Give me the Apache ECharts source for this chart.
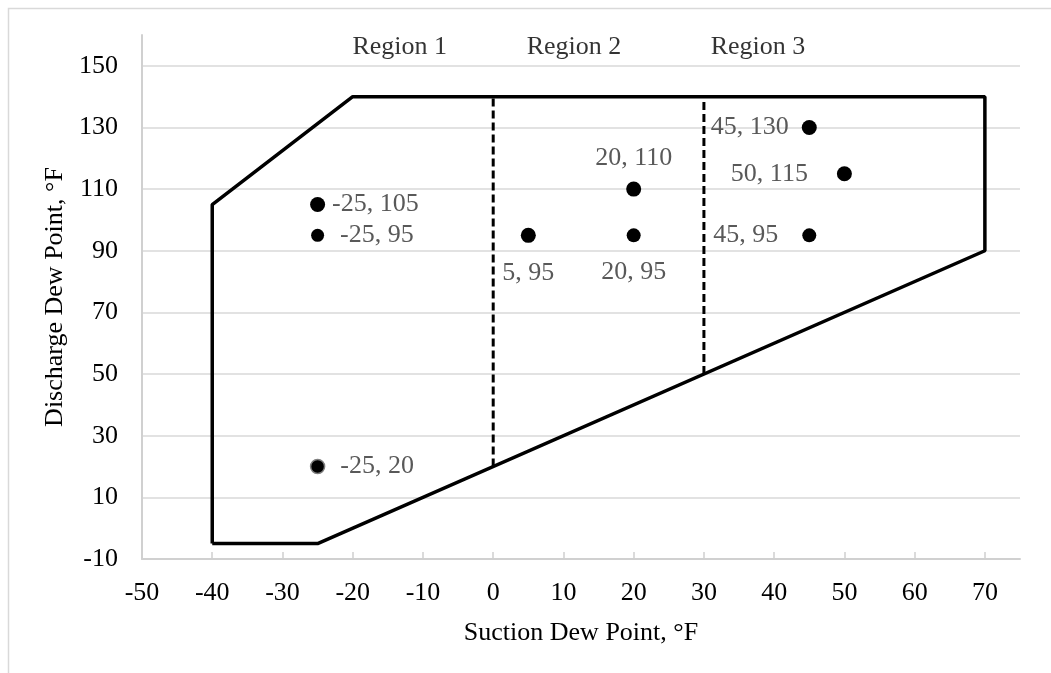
<!DOCTYPE html>
<html>
<head>
<meta charset="utf-8">
<script src="https://cdn.jsdelivr.net/npm/echarts@6/dist/echarts.min.js"></script>
<style>html,body{margin:0;padding:0;background:#fff}#c{width:1051px;height:673px}</style>
</head>
<body>
<div id="c"></div>
<script>
// ---- data ----
const envelopeX = [-40, -25, 70, 70, -20, -40, -40];
const envelopeY = [-5, -5, 90, 140, 140, 105, -5];
const divider1X = [0, 0];
const divider1Y = [20, 140];
const divider2X = [30, 30];
const divider2Y = [50, 140];
const pointX = [-25, -25, -25, 5, 20, 20, 45, 50, 45];
const pointY = [105, 95, 20, 95, 95, 110, 130, 115, 95];
const regionNames = ['Region 1', 'Region 2', 'Region 3'];
const regionX = [-13.3, 11.5, 37.7];
const regionY = [156, 156, 156];
const xTicks = [-50, -40, -30, -20, -10, 0, 10, 20, 30, 40, 50, 60, 70];
const yTicks = [-10, 10, 30, 50, 70, 90, 110, 130, 150];

// ---- styles (per point) ----
const pointStyle = [
  {size: 15, pos: 'right', dist: 7},
  {size: 13, pos: 'right', dist: 16},
  {size: 14, pos: 'right', dist: 15, border: true},
  {size: 15, pos: 'bottom', dist: 17},
  {size: 14, pos: 'bottom', dist: 17},
  {size: 15, pos: 'top', dist: 10},
  {size: 15, pos: 'left', dist: 13},
  {size: 15, pos: 'left', dist: 29},
  {size: 14, pos: 'left', dist: 24}
];

const FONT = '"Liberation Serif", "Times New Roman", serif';
const zip = (a, b) => a.map((v, i) => [v, b[i]]);

const pointData = pointX.map((x, i) => {
  const s = pointStyle[i];
  return {
    value: [x, pointY[i]],
    symbolSize: s.size,
    itemStyle: s.border ? {color: '#000', opacity: 1, borderColor: '#7f7f7f', borderWidth: 1.5} : {color: '#000', opacity: 1},
    label: {position: s.pos, distance: s.dist}
  };
});

const chart = echarts.init(document.getElementById('c'), null, {renderer: 'canvas'});
chart.setOption({
  animation: false,
  backgroundColor: '#fff',
  textStyle: {fontFamily: FONT},
  graphic: [{
    type: 'rect', left: 6, top: 6, shape: {width: 1100, height: 720},
    style: {fill: 'none', stroke: '#d9d9d9', lineWidth: 1.5}, silent: true, z: -10
  }],
  grid: {left: 142, right: 31, top: 35, bottom: 114, containLabel: false},
  xAxis: {
    type: 'value', min: -50, max: 75, interval: 10,
    name: 'Suction Dew Point, °F', nameLocation: 'middle', nameGap: 61,
    nameTextStyle: {fontFamily: FONT, fontSize: 26, color: '#000'},
    axisLine: {show: true, onZero: false, lineStyle: {color: '#d0d0d0', width: 2}},
    axisTick: {show: true, inside: true, length: 7, lineStyle: {color: '#d0d0d0', width: 1.5}, customValues: xTicks},
    axisLabel: {fontFamily: FONT, fontSize: 26, color: '#000', margin: 21, customValues: xTicks},
    splitLine: {show: false}
  },
  yAxis: {
    type: 'value', min: -10, max: 160, interval: 20,
    name: 'Discharge Dew Point, °F', nameLocation: 'middle', nameGap: 73, nameRotate: 90,
    nameTextStyle: {fontFamily: FONT, fontSize: 26, color: '#000'},
    axisLine: {show: true, onZero: false, lineStyle: {color: '#d0d0d0', width: 2}},
    axisTick: {show: false},
    axisLabel: {fontFamily: FONT, fontSize: 26, color: '#000', margin: 24, showMaxLabel: false},
    splitLine: {show: true, showMaxLine: false, showMinLine: false, lineStyle: {color: '#d9d9d9', width: 1.5}}
  },
  series: [
    {
      type: 'line', data: zip(envelopeX, envelopeY), symbol: 'none',
      lineStyle: {color: '#000', width: 3.5}, z: 3
    },
    {
      type: 'line', data: zip(divider1X, divider1Y), symbol: 'none',
      lineStyle: {color: '#000', width: 3, type: [8, 4]}, z: 3
    },
    {
      type: 'line', data: zip(divider2X, divider2Y), symbol: 'none',
      lineStyle: {color: '#000', width: 3, type: [8, 4]}, z: 3
    },
    {
      type: 'scatter', data: pointData, symbol: 'circle', z: 5,
      itemStyle: {opacity: 1},
      label: {
        show: true, fontFamily: FONT, fontSize: 26, color: '#595959',
        formatter: p => p.value[0] + ', ' + p.value[1]
      }
    },
    {
      type: 'scatter', symbolSize: 0, z: 5,
      data: regionX.map((x, i) => ({value: [x, regionY[i]], name: regionNames[i]})),
      label: {show: true, position: 'inside', fontFamily: FONT, fontSize: 26, color: '#000', formatter: p => p.name}
    }
  ]
});
</script>
</body>
</html>
